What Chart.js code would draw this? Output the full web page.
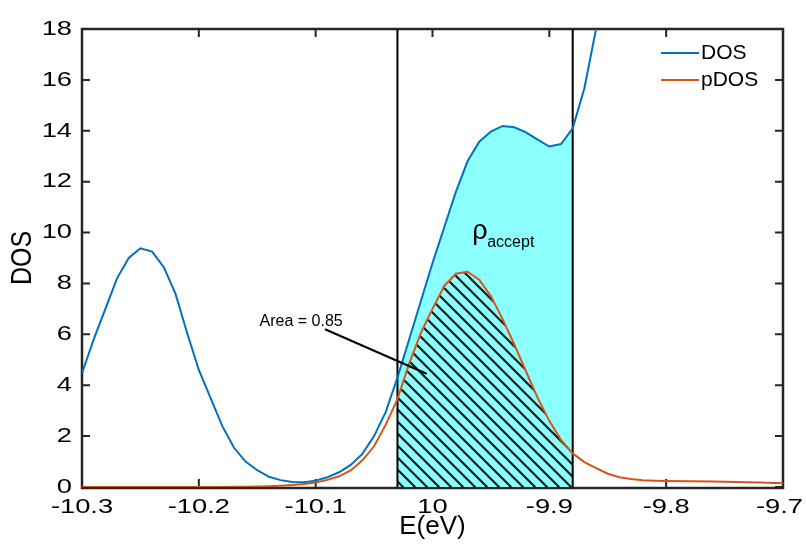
<!DOCTYPE html>
<html lang="en">
<head>
<meta charset="UTF-8">
<title>DOS / pDOS</title>
<script src="https://cdn.jsdelivr.net/npm/chart.js"></script>
<style>
  html, body { margin: 0; padding: 0; background: #fff; }
</style>
</head>
<body>
<canvas id="dosChart" width="806" height="544"></canvas>
<script>
// energy grid (eV)
const energy = [
  -10.30, -10.29, -10.28, -10.27, -10.26, -10.25, -10.24, -10.23, -10.22, -10.21,
  -10.20, -10.19, -10.18, -10.17, -10.16, -10.15, -10.14, -10.13, -10.12, -10.11,
  -10.10, -10.09, -10.08, -10.07, -10.06, -10.05, -10.04, -10.03, -10.02, -10.01,
  -10.00, -9.99, -9.98, -9.97, -9.96, -9.95, -9.94, -9.93, -9.92, -9.91,
  -9.90, -9.89, -9.88, -9.87, -9.86, -9.85, -9.84, -9.83, -9.82, -9.81,
  -9.80, -9.78, -9.76, -9.74, -9.72, -9.70
];
// DOS leaves the top of the axes at about -9.86
const dos = [
  4.47, 5.8, 7.0, 8.2, 9.0, 9.38, 9.25, 8.64, 7.6, 6.05,
  4.6, 3.5, 2.4, 1.55, 1.0, 0.66, 0.4, 0.27, 0.2, 0.19,
  0.25, 0.38, 0.58, 0.87, 1.3, 2.0, 2.95, 4.3, 5.8, 7.3,
  8.8, 10.2, 11.6, 12.8, 13.57, 13.97, 14.19, 14.14, 13.94, 13.65,
  13.38, 13.48, 14.1, 15.67, 18.0, 21.0
];
const pdos = [
  0, 0, 0, 0, 0, 0, 0, 0, 0, 0,
  0, 0, 0, 0.01, 0.01, 0.02, 0.03, 0.05, 0.08, 0.12,
  0.18, 0.28, 0.42, 0.65, 1.05, 1.6, 2.45, 3.45, 4.85, 6.05,
  7.0, 7.9, 8.38, 8.46, 8.15, 7.5, 6.6, 5.6, 4.55, 3.5,
  2.6, 1.85, 1.32, 0.98, 0.74, 0.52, 0.38, 0.31, 0.27, 0.25,
  0.24, 0.23, 0.22, 0.2, 0.18, 0.15
];
const acceptWindow = [-10.03, -9.88];
const xTicks = [-10.3, -10.2, -10.1, -10.0, -9.9, -9.8, -9.7];
const xTickLabels = ['-10.3', '-10.2', '-10.1', '10', '-9.9', '-9.8', '-9.7'];
const yTicks = [0, 2, 4, 6, 8, 10, 12, 14, 16, 18];
const areaText = 'Area = 0.85';
const areaTextAt = [-10.148, 6.5];
const areaPointer = [[-10.092, 6.2], [-10.005, 4.45]];
const rhoAt = [-9.966, 9.75];

const blue = '#0072BD';
const orange = '#D95319';
const cyan = '#8CFFFF';
const axisColor = '#262626';
const FONT = '"Liberation Sans", Arial, Helvetica, sans-serif';
const TICK_SX = 1.3;

function pts(ys) {
  const out = [];
  for (let i = 0; i < ys.length; i++) out.push({ x: energy[i], y: ys[i] });
  return out;
}
function inWindow(p) {
  return p.x >= acceptWindow[0] - 1e-9 && p.x <= acceptWindow[1] + 1e-9;
}

function hatchPattern() {
  const s = 12;
  const c = document.createElement('canvas');
  c.width = s; c.height = s;
  const g = c.getContext('2d');
  g.fillStyle = cyan;
  g.fillRect(0, 0, s, s);
  g.strokeStyle = '#1a1a1a';
  g.lineWidth = 2.2;
  g.beginPath();
  g.moveTo(-2, -2); g.lineTo(s + 2, s + 2);
  g.moveTo(-2, s - 2); g.lineTo(2, s + 2);
  g.moveTo(s - 2, -2); g.lineTo(s + 2, 2);
  g.stroke();
  return g.createPattern(c, 'repeat');
}

// draws text, optionally widened horizontally like the original export
function txt(ctx, str, x, y, size, align, base, sx) {
  ctx.save();
  ctx.font = size + 'px ' + FONT;
  ctx.fillStyle = '#000';
  ctx.textAlign = align;
  ctx.textBaseline = base;
  ctx.translate(x, y);
  ctx.scale(sx || 1, 1);
  ctx.fillText(str, 0, 0);
  ctx.restore();
}

const frame = {
  id: 'frame',
  beforeDatasetsDraw(chart) {
    const { ctx, chartArea: a, scales: { x, y } } = chart;
    ctx.save();
    ctx.strokeStyle = axisColor;
    ctx.lineWidth = 2.5;
    ctx.strokeRect(a.left, a.top, a.right - a.left, a.bottom - a.top + 1);
    ctx.lineWidth = 2;
    ctx.beginPath();
    xTicks.forEach(v => {
      const px = x.getPixelForValue(v);
      ctx.moveTo(px, a.bottom); ctx.lineTo(px, a.bottom - 8);
      ctx.moveTo(px, a.top); ctx.lineTo(px, a.top + 8);
    });
    yTicks.forEach(v => {
      const py = y.getPixelForValue(v);
      ctx.moveTo(a.left, py); ctx.lineTo(a.left + 8, py);
      ctx.moveTo(a.right, py); ctx.lineTo(a.right - 8, py);
    });
    ctx.stroke();
    ctx.restore();
  },
  afterDraw(chart) {
    const { ctx, chartArea: a, scales: { x, y } } = chart;
    // tick labels (last one kept inside the canvas)
    ctx.font = '21px ' + FONT;
    xTicks.forEach((v, i) => {
      const half = ctx.measureText(xTickLabels[i]).width * TICK_SX / 2;
      const cx = Math.min(x.getPixelForValue(v), chart.width - 3 - half);
      txt(ctx, xTickLabels[i], cx, a.bottom + 20, 21, 'center', 'middle', TICK_SX);
    });
    yTicks.forEach(v => txt(ctx, String(v), a.left - 10, y.getPixelForValue(v), 21, 'right', 'middle', TICK_SX));
    // axis titles
    txt(ctx, 'E(eV)', (a.left + a.right) / 2, 527, 26, 'center', 'middle');
    ctx.save();
    ctx.translate(23, (a.top + a.bottom) / 2);
    ctx.scale(1.15, 1);
    ctx.rotate(-Math.PI / 2);
    txt(ctx, 'DOS', 0, 0, 25, 'center', 'middle');
    ctx.restore();
    // legend
    const items = chart.data.datasets.filter(d => d.legend);
    items.forEach((d, i) => {
      const ly = 53 + i * 27;
      ctx.save();
      ctx.strokeStyle = d.borderColor;
      ctx.lineWidth = 2;
      ctx.beginPath();
      ctx.moveTo(661, ly); ctx.lineTo(699, ly);
      ctx.stroke();
      ctx.restore();
      txt(ctx, d.label, 701, ly, 21, 'left', 'middle');
    });
    // annotations
    txt(ctx, areaText, x.getPixelForValue(areaTextAt[0]), y.getPixelForValue(areaTextAt[1]), 16, 'left', 'middle');
    const rx = x.getPixelForValue(rhoAt[0]);
    const ry = y.getPixelForValue(rhoAt[1]);
    txt(ctx, '\u03C1', rx, ry, 27, 'left', 'alphabetic');
    txt(ctx, 'accept', rx + 15, ry + 8, 16, 'left', 'alphabetic');
  }
};

const ctx = document.getElementById('dosChart').getContext('2d');
const dosPts = pts(dos);
const pdosPts = pts(pdos);

new Chart(ctx, {
  type: 'line',
  data: {
    datasets: [
      {
        label: 'accept fill', data: dosPts.filter(inWindow), order: 10,
        borderWidth: 0, pointRadius: 0, fill: 'origin', backgroundColor: cyan
      },
      {
        label: 'area fill', data: pdosPts.filter(inWindow), order: 9,
        borderWidth: 0, pointRadius: 0, fill: 'origin', backgroundColor: hatchPattern()
      },
      {
        label: 'lower bound', data: [{ x: acceptWindow[0], y: 0 }, { x: acceptWindow[0], y: 18 }], order: 3,
        borderColor: '#000', borderWidth: 2, pointRadius: 0
      },
      {
        label: 'upper bound', data: [{ x: acceptWindow[1], y: 0 }, { x: acceptWindow[1], y: 18 }], order: 3,
        borderColor: '#000', borderWidth: 2, pointRadius: 0
      },
      {
        label: 'DOS', legend: true, data: dosPts, order: 1,
        borderColor: blue, borderWidth: 2, pointRadius: 0, tension: 0
      },
      {
        label: 'pDOS', legend: true, data: pdosPts, order: 2,
        borderColor: orange, borderWidth: 2, pointRadius: 0, tension: 0
      },
      {
        label: 'pointer', data: areaPointer.map(p => ({ x: p[0], y: p[1] })), order: 0,
        borderColor: '#000', borderWidth: 2, pointRadius: 0
      }
    ]
  },
  options: {
    responsive: false,
    animation: false,
    layout: { padding: { top: 29, right: 23, left: 0, bottom: 0 } },
    scales: {
      x: {
        type: 'linear', min: -10.3, max: -9.7,
        afterFit: s => { s.height = 57; },
        ticks: { display: false, stepSize: 0.1 },
        grid: { display: false }, border: { display: false }
      },
      y: {
        min: 0, max: 18,
        afterFit: s => { s.width = 82; },
        ticks: { display: false, stepSize: 2 },
        grid: { display: false }, border: { display: false }
      }
    },
    plugins: { legend: { display: false }, tooltip: { enabled: false } }
  },
  plugins: [frame]
});
</script>
</body>
</html>
